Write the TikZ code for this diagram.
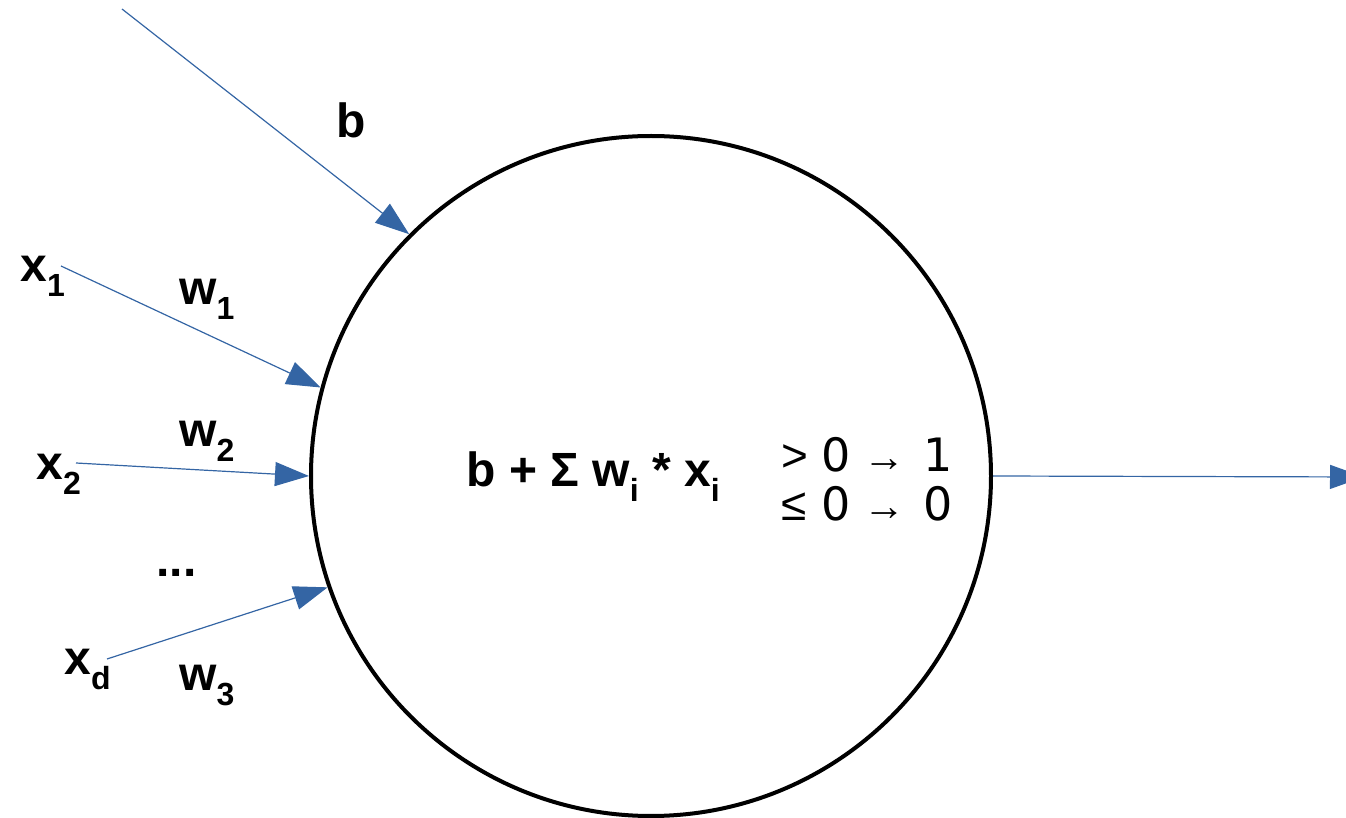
\documentclass[tikz,border=0pt]{standalone}
\usepackage{fontspec}
\setmainfont{Liberation Sans}
\newfontfamily\rulefont{DejaVu Sans}
\usetikzlibrary{arrows.meta}
\definecolor{synblue}{HTML}{3465A4}
\newcommand\wsub[2]{#1\raisebox{-7.5pt}{\fontsize{16}{16}\selectfont #2}}
\newcommand\rulerow[3]{\makebox[20pt][l]{\rmfamily #1}\makebox[21pt][l]{0}\makebox[30pt][l]{\rmfamily\fontsize{21}{21}\selectfont #2}#3}

\begin{document}
\begin{tikzpicture}[x=0.5pt,y=-0.5pt,
  font=\fontsize{24}{28}\selectfont\bfseries,
  neuron/.style={circle, draw=black, line width=2pt, minimum size=340pt, inner sep=0pt},
  lbl/.style={inner sep=0pt, anchor=base west},
  rule/.style={inner sep=0pt, anchor=base west, font=\rulefont\fontsize{23}{24}\selectfont},
  synapse/.style={synblue, line width=0.6pt, -{Triangle[length=17pt,width=12pt]}}
]
\clip (0,0) rectangle (1346,818);

\node[neuron] (cell) at (651,476) {};

% free ends of the input lines
\coordinate (bin) at (122,9);
\coordinate (x1in) at (61,266);
\coordinate (x2in) at (76,463);
\coordinate (xdin) at (107,659);
\coordinate (yout) at (1364,477);

\node[lbl] (blbl) at (336,138) {b};
\node[lbl] (x1) at (20,282) {\wsub{x}{1}};
\node[lbl] (w1) at (179,305) {\wsub{w}{1}};
\node[lbl] (x2) at (36,480) {\wsub{x}{2}};
\node[lbl] (w2) at (179,447) {\wsub{w}{2}};
\node[lbl] (dots) at (156,577) {...};
\node[lbl] (xd) at (64,675) {\wsub{x}{d}};
\node[lbl] (w3) at (179,690) {\wsub{w}{3}};

\node[lbl] (sum) at (466,487) {b + Σ \wsub{w}{i} * \wsub{x}{i}};
\node[rule] (gt) at (781,472) {\rulerow{>}{→}{1}};
\node[rule] (le) at (781,521) {\rulerow{≤}{→}{0}};

\draw[synapse] (bin) -- (cell.135);
\draw[synapse] (x1in) -- (cell.165);
\draw[synapse] (x2in) -- (cell.180);
\draw[synapse] (xdin) -- (cell.199);
\draw[synapse] (cell.east) -- (yout);
\end{tikzpicture}
\end{document}
